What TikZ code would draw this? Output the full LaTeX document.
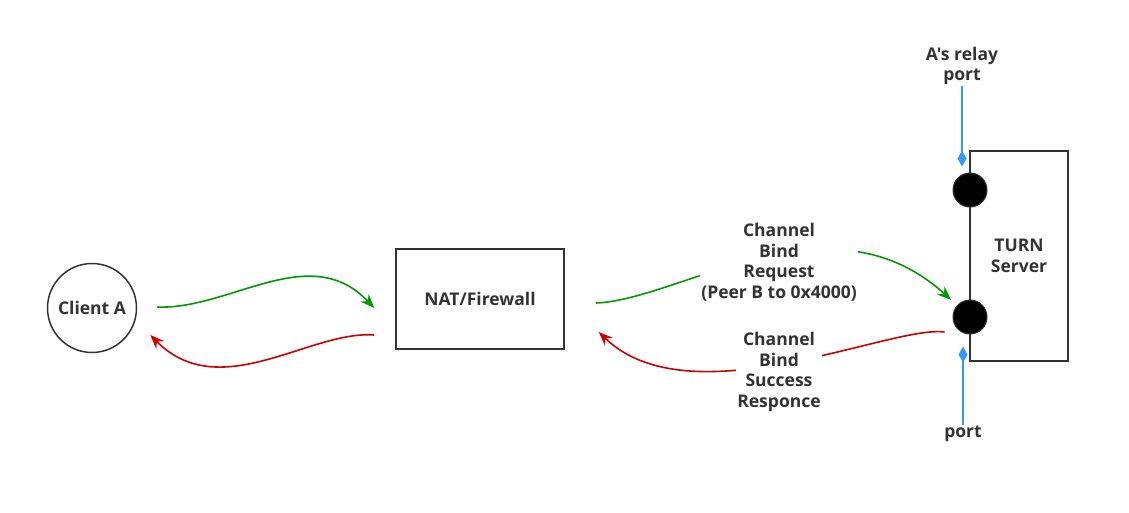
\documentclass[tikz,border=0pt]{standalone}
\usepackage{fontspec}
\setmainfont{Open Sans}[Ligatures=TeXOff]
\usetikzlibrary{arrows.meta,positioning,calc}
\definecolor{ink}{HTML}{333333}
\definecolor{reqgreen}{HTML}{009900}
\definecolor{resred}{HTML}{CC0000}
\definecolor{portblue}{HTML}{3399FF}
\tikzset{
    lbl/.style={font=\bfseries\fontsize{17.5}{20.5}\selectfont, text=ink, align=center, inner sep=1pt},
    box/.style={draw=ink, line width=1.5pt, rectangle},
    port/.style={circle, fill=black, draw=ink, line width=1pt, minimum size=34pt, inner sep=0pt},
    req/.style={draw=reqgreen, line width=1.6pt, -{Stealth[length=14pt,width=11pt]}},
    res/.style={draw=resred, line width=1.6pt, -{Stealth[length=14pt,width=11pt]}},
    portline/.style={draw=portblue, line width=1.6pt, -{Diamond[length=16pt,width=9pt]}}
}
\begin{document}
\begin{tikzpicture}[x=1pt,y=-1pt]
    \useasboundingbox (0,0) rectangle (1129,512);

    % hosts
    \node[lbl, draw=ink, line width=1.5pt, circle, minimum size=89pt] (client) at (92,308) {Client A};
    \node[lbl, box, minimum width=168pt, minimum height=100pt] (nat) at (480,299) {NAT/Firewall};
    \node[lbl, box, minimum width=98pt, minimum height=210pt] (turn) at (1019,256) {TURN\\Server};

    % ports on the TURN server
    \node[port] (relayport) at (970,190) {};
    \node[port] (port) at (970,317) {};

    % client <-> NAT
    \draw[req] ($(client.east)+(20,-1)$) .. controls (230,310) and (310,240) .. ($(nat.west)+(-21,9)$);
    \draw[res] ($(nat.west)+(-21,36)$) .. controls (310,330) and (220,405) .. ($(client.east)+(13,27)$);

    % NAT <-> TURN
    \draw[req, shorten >=8pt] ($(nat.east)+(31,4)$) .. controls (680,300) and (830,190) .. (port);
    \draw[res] ($(port.west)+(-8,15)$) .. controls (890,325) and (690,420) .. ($(nat.east)+(34,33)$);

    \node[lbl, fill=white] (bindreq) at (779,262) {Channel\\Bind\\Request\\(Peer B to 0x4000)};
    \node[lbl, fill=white] (bindres) at (779,372) {Channel\\Bind\\Success\\Responce};

    % port labels
    \node[lbl] (relaylbl) at (962,66) {A's relay\\port};
    \node[lbl] (portlbl) at (963,434) {port};
    \draw[portline] (relaylbl.south) -- ($(relaylbl.south |- relayport.north)+(0,-6)$);
    \draw[portline] (portlbl.north) -- ($(portlbl.north |- port.south)+(0,12)$);

\end{tikzpicture}
\end{document}
